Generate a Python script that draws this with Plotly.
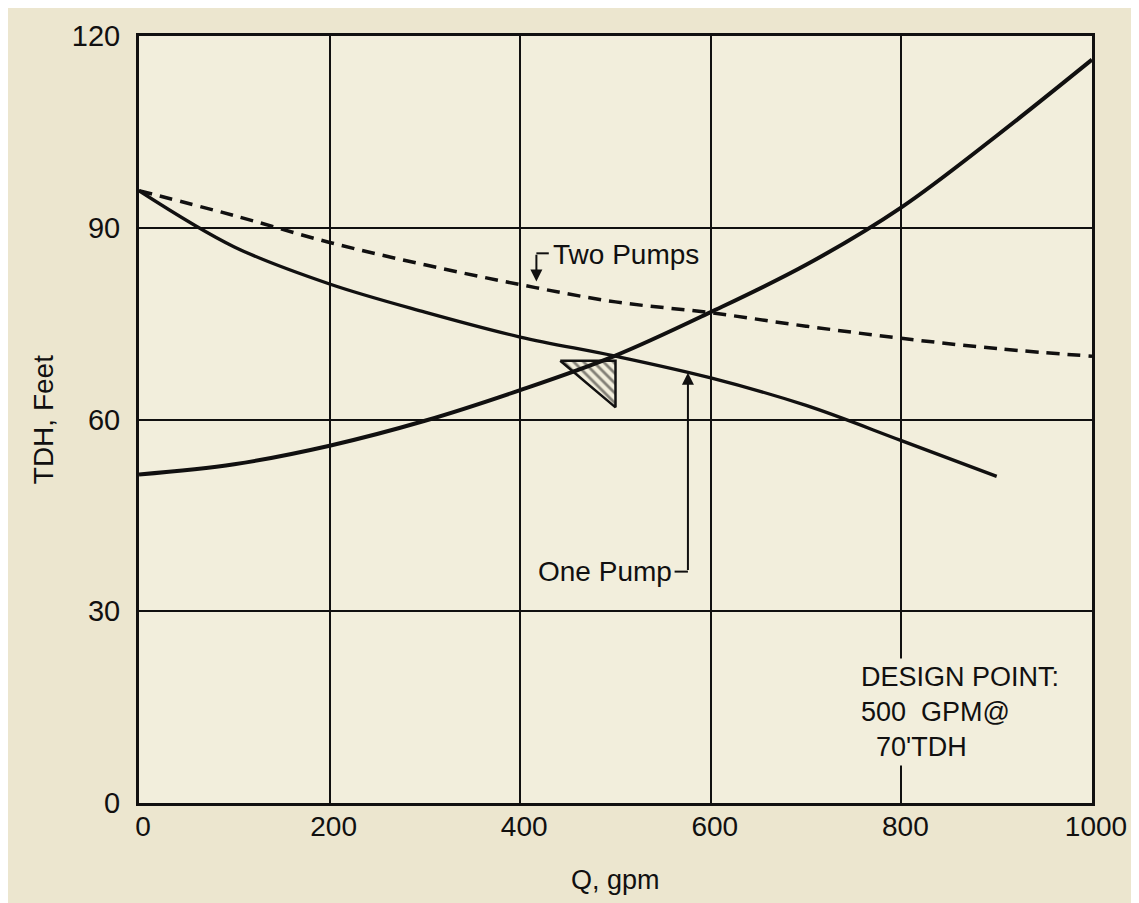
import plotly.graph_objects as go

# ---- data ----
Q_SYSTEM = [0, 100, 200, 300, 400, 500, 600, 700, 800, 900, 1000]
H_SYSTEM = [51.4, 53.0, 55.9, 59.8, 64.6, 70.0, 76.8, 84.2, 93.2, 104.4, 116.3]

Q_ONE = [0, 100, 200, 300, 400, 500, 600, 700, 800, 900]
H_ONE = [95.8, 87.0, 81.2, 76.8, 72.9, 69.9, 66.5, 62.2, 56.7, 51.1]

Q_TWO = [0, 100, 200, 300, 400, 500, 600, 700, 800, 900, 1000]
H_TWO = [95.8, 91.9, 87.7, 84.2, 81.1, 78.4, 76.7, 74.6, 72.7, 71.1, 69.9]

DESIGN_Q = 500
DESIGN_H = 70

X_TICKS = [0, 200, 400, 600, 800, 1000]
Y_TICKS = [0, 30, 60, 90, 120]

# ---- styles ----
PAPER = "#ece6cf"
PLOT = "#f2eedc"
INK = "#111010"
FONT = "Liberation Sans"

# design point marker size (in data units, relative to design point)
TRI_W = 58
TRI_TOP = 0.8
TRI_H = 7.3

fig = go.Figure()

# hatched design-point triangle
tri_x = [DESIGN_Q - TRI_W, DESIGN_Q, DESIGN_Q, DESIGN_Q - TRI_W]
tri_y = [DESIGN_H - TRI_TOP, DESIGN_H - TRI_TOP, DESIGN_H - TRI_TOP - TRI_H, DESIGN_H - TRI_TOP]
fig.add_trace(go.Scatter(
    x=tri_x, y=tri_y, mode="lines", fill="toself",
    line=dict(color=INK, width=2.5),
    fillcolor=PLOT,
    fillpattern=dict(shape="\\", fgcolor=INK, bgcolor=PLOT, size=7, solidity=0.4),
    hoverinfo="skip",
))

fig.add_trace(go.Scatter(
    x=Q_TWO, y=H_TWO, mode="lines",
    line=dict(color=INK, width=3.5, dash="13px,8px", shape="spline"),
    name="Two Pumps",
))
fig.add_trace(go.Scatter(
    x=Q_ONE, y=H_ONE, mode="lines",
    line=dict(color=INK, width=3.3, shape="spline"),
    name="One Pump",
))
fig.add_trace(go.Scatter(
    x=Q_SYSTEM, y=H_SYSTEM, mode="lines",
    line=dict(color=INK, width=4, shape="spline"),
    name="System",
))

annotations = [
    # Two Pumps label + leader
    dict(x=432, y=85.8, xref="x", yref="y", text="Two Pumps", showarrow=False,
         xanchor="left", yanchor="middle", font=dict(size=28, color=INK, family=FONT)),
    dict(x=417, y=81.6, xref="x", yref="y", ax=417, ay=86.0, axref="x", ayref="y",
         text="", showarrow=True, arrowhead=2, arrowsize=1.2, arrowwidth=2, arrowcolor=INK),
    # One Pump label + leader
    dict(x=561, y=36.2, xref="x", yref="y", text="One Pump", showarrow=False,
         xanchor="right", yanchor="middle", font=dict(size=28, color=INK, family=FONT)),
    dict(x=576, y=67.3, xref="x", yref="y", ax=576, ay=36.2, axref="x", ayref="y",
         text="", showarrow=True, arrowhead=2, arrowsize=1.2, arrowwidth=2, arrowcolor=INK),
    # design point note
    dict(x=753, y=14.3, xref="x", yref="y",
         text="DESIGN POINT:<br>500\u00a0\u00a0GPM@<br>\u00a0\u00a070'TDH",
         showarrow=False, xanchor="left", yanchor="middle", align="left",
         bgcolor=PLOT, borderpad=3,
         font=dict(size=27, color=INK, family=FONT)),
    # axis titles
    dict(x=0.5, y=-0.1, xref="paper", yref="paper", text="Q, gpm", showarrow=False,
         xanchor="center", yanchor="middle", font=dict(size=27, color=INK, family=FONT)),
    dict(x=-0.1, y=0.5, xref="paper", yref="paper", text="TDH, Feet", showarrow=False,
         textangle=-90, xanchor="center", yanchor="middle",
         font=dict(size=28, color=INK, family=FONT)),
]

shapes = [
    dict(type="line", xref="x", yref="y", x0=417, y0=86.0, x1=430, y1=86.0,
         line=dict(color=INK, width=2)),
    dict(type="line", xref="x", yref="y", x0=562, y0=36.2, x1=576, y1=36.2,
         line=dict(color=INK, width=2)),
]

fig.update_layout(
    width=1131, height=895,
    margin=dict(l=131, r=45, t=21, b=100),
    paper_bgcolor=PAPER, plot_bgcolor=PLOT,
    showlegend=False,
    font=dict(family=FONT, color=INK),
    annotations=annotations,
    shapes=shapes,
)
fig.update_xaxes(
    range=[0, 1000], tickvals=X_TICKS, ticktext=[str(v) for v in X_TICKS],
    showgrid=True, gridcolor=INK, gridwidth=2, zeroline=False,
    showline=True, linecolor=INK, linewidth=3, mirror=True,
    ticks="", ticklabelshift=4, ticklabelstandoff=-4, ticklabeloverflow="allow",
    tickfont=dict(size=28, color=INK, family=FONT),
)
fig.update_yaxes(
    range=[0, 120], tickvals=Y_TICKS, ticktext=[str(v) for v in Y_TICKS],
    showgrid=True, gridcolor=INK, gridwidth=2, zeroline=False,
    showline=True, linecolor=INK, linewidth=3, mirror=True,
    ticks="", ticklabelstandoff=10, ticklabeloverflow="allow",
    tickfont=dict(size=29, color=INK, family=FONT),
)

fig.write_html("out.html")
